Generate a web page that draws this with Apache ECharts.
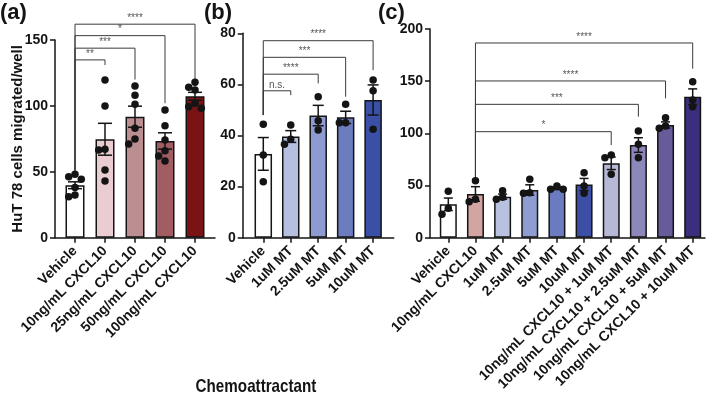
<!DOCTYPE html>
<html><head><meta charset="utf-8">
<script src="https://cdn.jsdelivr.net/npm/echarts@6/dist/echarts.min.js"></script>
<style>html,body{margin:0;padding:0;background:#fff}#c{width:712px;height:399px}</style>
</head><body><div id="c"></div><script>
// ---------- DATA ----------
const catsA = ['Vehicle','10ng/mL CXCL10','25ng/mL CXCL10','50ng/mL CXCL10','100ng/mL CXCL10'];
const meansA = [39.8, 74.7, 91.8, 73.4, 107.3];
const semsA = [2.6, 12.1, 8.0, 6.2, 3.0];
const dotsA = [
  [48.1, 46.3, 44.3, 38.0, 32.4, 31.1],
  [119.7, 100.0, 67.1, 66.6, 51.4, 43.0],
  [115.1, 108.0, 101.2, 83.0, 74.9, 71.1],
  [96.9, 85.0, 74.2, 66.0, 62.0, 58.2],
  [118.0, 114.2, 112.1, 102.0, 99.4, 98.2]
];
const yTicksA = [0, 50, 100, 150];
const sigA = [
  {from: 0, to: 1, y: 134.9, base: 51, end: 131, text: '**'},
  {from: 0, to: 2, y: 143.8, base: 51, end: 120, text: '***'},
  {from: 0, to: 3, y: 153.3, base: 51, end: 102, text: '*'},
  {from: 0, to: 4, y: 162.0, base: 51, end: 120, text: '****'}
];

const catsB = ['Vehicle','1uM MT','2.5uM MT','5uM MT','10uM MT'];
const meansB = [32.8, 39.6, 47.8, 47.1, 53.9];
const semsB = [6.4, 2.3, 4.0, 2.4, 5.9];
const dotsB = [
  [44.4, 32.4, 21.9],
  [44.1, 38.5, 36.6],
  [55.2, 45.8, 42.2],
  [52.2, 45.0, 45.0],
  [61.7, 57.5, 42.4]
];
const yTicksB = [0, 20, 40, 60, 80];
const sigB = [
  {from: 0, to: 1, y: 57.5, base: 48, end: 55.8, text: 'n.s.'},
  {from: 0, to: 2, y: 64.0, base: 48, end: 60.4, text: '****'},
  {from: 0, to: 3, y: 70.6, base: 48, end: 55.2, text: '***'},
  {from: 0, to: 4, y: 77.1, base: 48, end: 65.6, text: '****'}
];

const catsC = ['Vehicle','10ng/mL CXCL10','1uM MT','2.5uM MT','5uM MT','10uM MT',
  '10ng/mL CXCL10 + 1uM MT','10ng/mL CXCL10 + 2.5uM MT','10ng/mL CXCL10 + 5uM MT','10ng/mL CXCL10 + 10uM MT'];
const meansC = [32.0, 41.9, 39.3, 45.7, 47.3, 51.0, 71.3, 88.8, 108.0, 135.1];
const semsC = [6.0, 7.0, 2.5, 5.0, 1.2, 5.8, 6.0, 7.0, 3.0, 7.5];
const dotsC = [
  [44.5, 28.2, 22.4],
  [54.6, 36.8, 34.5],
  [45.0, 38.7, 36.8],
  [56.0, 43.1, 42.5],
  [49.5, 46.4, 46.4],
  [62.3, 49.5, 42.5],
  [79.3, 76.7, 60.7],
  [102.3, 89.5, 76.7],
  [115.0, 107.0, 104.8],
  [149.5, 132.0, 125.5]
];
const yTicksC = [0, 50, 100, 150, 200];
const sigC = [
  {from: 1, to: 6, y: 101.6, base: 58, end: 88.8, text: '*'},
  {from: 1, to: 7, y: 127.8, base: 58, end: 116, text: '***'},
  {from: 1, to: 8, y: 150.2, base: 58, end: 133.6, text: '****'},
  {from: 1, to: 9, y: 186.6, base: 58, end: 162, text: '****'}
];

// ---------- STYLE / LAYOUT ----------
const colorsA = ['#ffffff','#e9cdd0','#bb8e91','#a15d61','#7a1316'];
const colorsB = ['#ffffff','#b6bfe0','#8e9bd0','#6c7cbf','#3a50a6'];
const colorsC = ['#ffffff','#d3a5a2','#b8c1e0','#8f9cd1','#6b7bc0','#3c4fa5','#b7b7d6','#8d88bb','#675b9a','#3b2e7c'];
const FONT = '"Liberation Sans", Arial, sans-serif';
const INK = '#141414';

const panels = [
  {cats: catsA, means: meansA, sems: semsA, dots: dotsA, colors: colorsA, sig: sigA, ticks: yTicksA,
   grid: {left: 55, top: 40, width: 160, height: 197.7}, xmin: -2/3, xmax: 4 + 2/3, barWidth: 19, cap: 7},
  {cats: catsB, means: meansB, sems: semsB, dots: dotsB, colors: colorsB, sig: sigB, ticks: yTicksB,
   grid: {left: 242.7, top: 33.3, width: 151, height: 204.4}, xmin: -0.75, xmax: 4.75, barWidth: 17.5, cap: 5.5},
  {cats: catsC, means: meansC, sems: semsC, dots: dotsC, colors: colorsC, sig: sigC, ticks: yTicksC,
   grid: {left: 430, top: 29, width: 275, height: 208.7}, xmin: -0.674, xmax: 9.453, barWidth: 17, cap: 4.5}
];

const DOT = 7.5, STEP = 6.3;
function swarm(vals, ci, pyu, pxu) {
  const placed = [], out = [];
  vals.slice().sort((a, b) => b - a).forEach(v => {
    const py = v * pyu;
    for (const k of [0, -1, 1, -2, 2]) {
      const px = k * STEP;
      if (placed.every(p => Math.hypot(p[0] - px, p[1] - py) >= STEP)) {
        placed.push([px, py]);
        out.push([ci + px / pxu, v]);
        break;
      }
    }
  });
  return out;
}

const grids = [], xAxes = [], yAxes = [], series = [];
panels.forEach((P, g) => {
  grids.push(P.grid);
  const idx = P.cats.map((_, i) => i);
  xAxes.push({
    type: 'value', gridIndex: g, min: P.xmin, max: P.xmax,
    axisLine: {show: true, onZero: false, lineStyle: {color: INK, width: 1.5}},
    axisTick: {show: true, customValues: idx, length: 5, lineStyle: {color: INK, width: 1.5}},
    axisLabel: {customValues: idx, rotate: 45, margin: 11, padding: [10, 0, 0, 0], fontSize: 14, fontWeight: 'bold',
      fontFamily: FONT, color: INK, formatter: v => P.cats[Math.round(v)]},
    splitLine: {show: false}
  });
  const ymax = P.ticks[P.ticks.length - 1];
  yAxes.push({
    type: 'value', gridIndex: g, min: P.ticks[0], max: ymax, interval: P.ticks[1] - P.ticks[0],
    axisLine: {show: true, onZero: false, lineStyle: {color: INK, width: 1.5}},
    axisTick: {show: true, length: 5, lineStyle: {color: INK, width: 1.5}},
    axisLabel: {margin: 7, fontSize: 14, fontWeight: 'bold', fontFamily: FONT, color: INK},
    splitLine: {show: false},
    name: g === 0 ? 'HuT 78 cells migrated/well' : '',
    nameLocation: 'middle', nameGap: 30, nameMoveOverlap: false,
    nameTextStyle: {fontSize: 15, fontWeight: 'bold', fontFamily: FONT, color: INK}
  });
  const pyu = P.grid.height / ymax;
  const pxu = P.grid.width / (P.xmax - P.xmin);
  series.push({
    type: 'bar', xAxisIndex: g, yAxisIndex: g, barWidth: P.barWidth, z: 2,
    data: P.means.map((m, i) => ({value: [i, m], itemStyle: {color: P.colors[i]}})),
    itemStyle: {borderColor: INK, borderWidth: 1.5}
  });
  series.push({
    type: 'custom', xAxisIndex: g, yAxisIndex: g, z: 3, encode: {x: 0, y: 1},
    data: P.means.map((m, i) => [i, m, P.sems[i]]),
    renderItem: (p, api) => {
      const x = api.value(0), m = api.value(1), s = api.value(2);
      const t = api.coord([x, m + s]), b = api.coord([x, m - s]);
      const st = {stroke: INK, lineWidth: 1.5};
      return {type: 'group', children: [
        {type: 'line', shape: {x1: t[0], y1: t[1], x2: b[0], y2: b[1]}, style: st},
        {type: 'line', shape: {x1: t[0] - P.cap, y1: t[1], x2: t[0] + P.cap, y2: t[1]}, style: st},
        {type: 'line', shape: {x1: b[0] - P.cap, y1: b[1], x2: b[0] + P.cap, y2: b[1]}, style: st}
      ]};
    }
  });
  const pts = [];
  P.dots.forEach((vals, i) => swarm(vals, i, pyu, pxu).forEach(pt => pts.push(pt)));
  series.push({
    type: 'scatter', xAxisIndex: g, yAxisIndex: g, z: 4, symbolSize: DOT,
    itemStyle: {color: INK, opacity: 1}, data: pts
  });
  P.sig.forEach(s => {
    series.push({
      type: 'line', xAxisIndex: g, yAxisIndex: g, z: 1, clip: false, symbol: 'none', silent: true,
      lineStyle: {color: '#3a3a3a', width: 1},
      data: [[s.from, s.base], [s.from, s.y], [s.to, s.y], [s.to, s.end]]
    });
  });
  series.push({
    type: 'scatter', xAxisIndex: g, yAxisIndex: g, z: 5, clip: false, symbolSize: 0, silent: true,
    data: P.sig.map(s => ({value: [(s.from + s.to) / 2, s.y], label: {formatter: s.text}})),
    label: {show: true, position: 'top', distance: 1, fontSize: 10, fontFamily: FONT, color: '#2a2a2a'}
  });
});

const chart = echarts.init(document.getElementById('c'), null, {renderer: 'canvas'});
chart.setOption({
  animation: false,
  backgroundColor: '#ffffff',
  grid: grids, xAxis: xAxes, yAxis: yAxes, series: series,
  graphic: [
    {type: 'text', left: 0, top: 2, style: {text: '(a)', fontSize: 22, fontWeight: 'bold', fontFamily: FONT, fill: INK}},
    {type: 'text', left: 204, top: 2, style: {text: '(b)', fontSize: 22, fontWeight: 'bold', fontFamily: FONT, fill: INK}},
    {type: 'text', left: 378, top: 2, style: {text: '(c)', fontSize: 22, fontWeight: 'bold', fontFamily: FONT, fill: INK}},
    {type: 'text', x: 256, y: 387, scaleX: 0.8, style: {text: 'Chemoattractant', fontSize: 19, fontWeight: 'bold',
      fontFamily: FONT, fill: INK, align: 'center', verticalAlign: 'middle'}}
  ]
});
</script></body></html>
